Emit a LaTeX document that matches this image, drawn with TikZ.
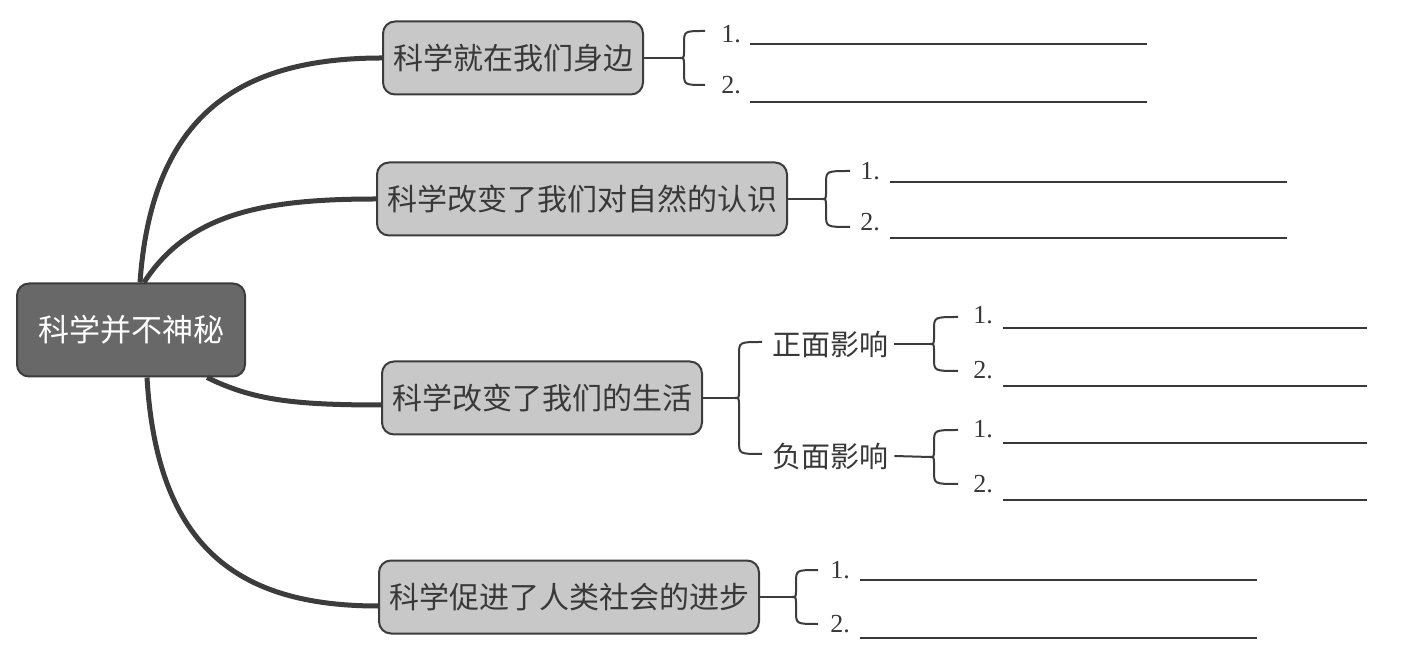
\documentclass[tikz,border=0pt]{standalone}
\usepackage{fontspec}
\setmainfont{Liberation Serif}
\newfontfamily\cjk{Noto Sans CJK SC}
\usetikzlibrary{positioning,calc}
\definecolor{rootfill}{HTML}{686868}
\definecolor{topicfill}{HTML}{C8C8C8}
\definecolor{edgecol}{HTML}{3C3C3C}
\definecolor{inkcol}{HTML}{383838}

\begin{document}
\begin{tikzpicture}[x=0.5pt, y=-0.5pt,
  root/.style={draw=edgecol, line width=1pt, rounded corners=6pt, fill=rootfill, minimum width=114pt, minimum height=46.5pt, font=\cjk\fontsize{15.5pt}{18pt}\selectfont, text=white},
  topic/.style={draw=edgecol, line width=1pt, rounded corners=6pt, fill=topicfill, minimum height=36.5pt, inner xsep=5pt, font=\cjk\fontsize{15pt}{18pt}\selectfont, text=inkcol},
  side/.style={font=\cjk\fontsize{14.5pt}{17pt}\selectfont, text=inkcol, inner sep=3pt},
  num/.style={font=\fontsize{13pt}{15pt}\selectfont, text=inkcol, inner sep=0pt},
  trunk/.style={line width=2.5pt, draw=edgecol},
  twig/.style={line width=1pt, draw=edgecol},
  blank/.style={line width=1.2pt, draw=inkcol}
]
  \useasboundingbox (0,0) rectangle (1406,656);

  \node[root] (root) at (131,330) {科学并不神秘};

  \node[topic] (near) at (513,58) {科学就在我们身边};
  \node[topic] (nature) at (582,199) {科学改变了我们对自然的认识};
  \node[topic] (life) at (542,398) {科学改变了我们的生活};
  \node[topic] (society) at (569,597) {科学促进了人类社会的进步};

  \node[side] (plus) at (830,344) {正面影响};
  \node[side] (minus) at (830,456) {负面影响};

  % main branches
  \draw[trunk] ($(root.north)+(9,0)$) .. controls +(12,-170) and +(-140,0) .. (near.west);
  \draw[trunk] ($(root.north)+(13,0)$) .. controls +(45,-70) and +(-110,0) .. (nature.west);
  \draw[trunk] ($(root.south)+(76,0)$) .. controls +(45,22) and +(-90,0) .. ($(life.west)+(0,7)$);
  \draw[trunk] ($(root.south)+(16,0)$) .. controls +(10,170) and +(-140,0) .. ($(society.west)+(0,9)$);

  % braces
  \foreach \k/\tx/\cy/\h/\w in {t1/680/58/27/25, t2/822/199/28/28, t3/735/398/56/27, t4/930/344/27/28, t5/930/457/27/28, t6/792/597/27/26}{
    \coordinate (\k) at (\tx,\cy);
    \draw[twig] (\tx+\w,\cy-\h) .. controls (\tx+4,\cy-\h) .. (\tx+4,\cy-\h+13) -- (\tx+4,\cy-8)
      .. controls (\tx+4,\cy) .. (\tx,\cy) .. controls (\tx+4,\cy) .. (\tx+4,\cy+8)
      -- (\tx+4,\cy+\h-13) .. controls (\tx+4,\cy+\h) .. (\tx+\w,\cy+\h);
  }

  \draw[twig] (near.east) -- (t1);
  \draw[twig] (nature.east) -- (t2);
  \draw[twig] (life.east) -- (t3);
  \draw[twig] (plus.east) -- (t4);
  \draw[twig] (minus.east) -- (t5);
  \draw[twig] (society.east) -- (t6);

  % answer lines
  \foreach \k/\nx/\ya/\yb/\la/\lb/\za/\zb in {a/731/34/85/750/1147/44/102, b/870/171/222/890/1287/182/238, c/983/315/370/1003/1367/328/386, d/983/429/484/1003/1367/443/500, e/840/570/624/860/1257/580/638}{
    \node[num] (\k-1) at (\nx,\ya) {1.};
    \node[num] (\k-2) at (\nx,\yb) {2.};
    \draw[blank] (\la,\za) -- (\lb,\za);
    \draw[blank] (\la,\zb) -- (\lb,\zb);
  }
\end{tikzpicture}
\end{document}
